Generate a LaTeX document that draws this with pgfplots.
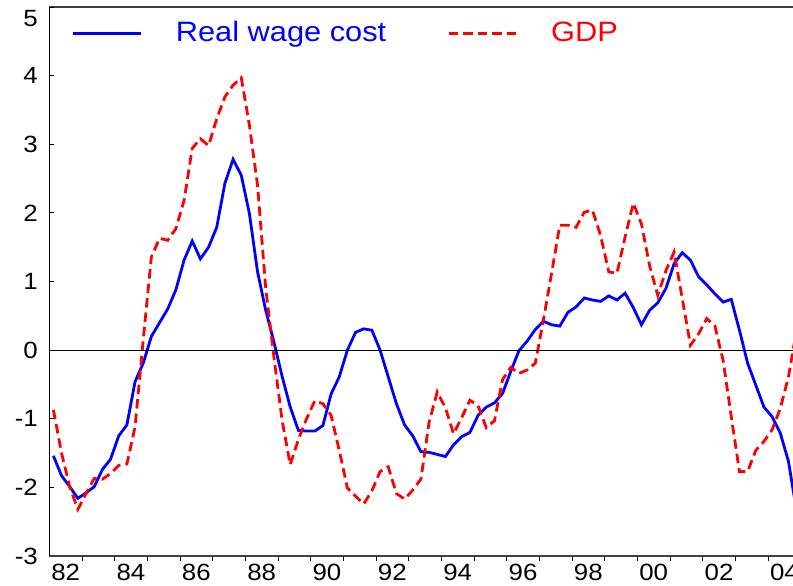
\documentclass[border=0pt]{standalone}
\usepackage{fontspec}
\setmainfont{Liberation Sans}[FakeStretch=1.1]
\usepackage{pgfplots}
\usepackage{pgfplotstable}
\pgfplotsset{compat=1.18}
\newcommand{\tickfont}{\fontsize{23.5}{28}\selectfont}
\newcommand{\legfont}{\fontsize{28}{33}\selectfont}

\pgfplotstableread{
k rwc
0 -1.54
1 -1.83
2 -1.99
3 -2.16
4 -2.08
5 -1.99
6 -1.74
7 -1.59
8 -1.25
9 -1.09
10 -0.46
11 -0.19
12 0.20
13 0.40
14 0.60
15 0.88
16 1.31
17 1.59
18 1.33
19 1.50
20 1.79
21 2.43
22 2.78
23 2.55
24 1.99
25 1.14
26 0.58
27 0.12
28 -0.38
29 -0.83
30 -1.17
31 -1.18
32 -1.18
33 -1.10
34 -0.64
35 -0.39
36 0.00
37 0.26
38 0.31
39 0.29
40 0.00
41 -0.39
42 -0.78
43 -1.09
44 -1.25
45 -1.48
46 -1.49
47 -1.52
48 -1.55
49 -1.38
50 -1.26
51 -1.20
52 -0.95
53 -0.83
54 -0.77
55 -0.63
56 -0.31
57 -0.01
58 0.13
59 0.30
60 0.42
61 0.37
62 0.35
63 0.55
64 0.63
65 0.76
66 0.73
67 0.71
68 0.79
69 0.73
70 0.83
71 0.62
72 0.37
73 0.58
74 0.69
75 0.90
76 1.26
77 1.42
78 1.31
79 1.07
80 0.95
81 0.82
82 0.70
83 0.74
84 0.29
85 -0.19
86 -0.51
87 -0.83
88 -0.97
89 -1.21
90 -1.62
91 -2.35
}\rwctable

\pgfplotstableread{
k gdp
0 -0.87
1 -1.50
2 -1.99
3 -2.32
4 -2.09
5 -1.87
6 -1.88
7 -1.80
8 -1.68
9 -1.66
10 -1.12
11 0.15
12 1.36
13 1.63
14 1.60
15 1.77
16 2.18
17 2.94
18 3.08
19 2.98
20 3.37
21 3.69
22 3.86
23 3.97
24 3.28
25 2.40
26 0.90
27 -0.10
28 -1.02
29 -1.67
30 -1.30
31 -1.00
32 -0.74
33 -0.78
34 -0.95
35 -1.46
36 -2.01
37 -2.13
38 -2.24
39 -2.05
40 -1.77
41 -1.70
42 -2.09
43 -2.17
44 -2.04
45 -1.88
46 -1.05
47 -0.61
48 -0.84
49 -1.22
50 -0.98
51 -0.73
52 -0.81
53 -1.13
54 -1.03
55 -0.43
56 -0.25
57 -0.34
58 -0.29
59 -0.19
60 0.44
61 1.12
62 1.82
63 1.82
64 1.79
65 2.01
66 2.04
67 1.67
68 1.14
69 1.12
70 1.65
71 2.14
72 1.84
73 1.23
74 0.80
75 1.16
76 1.43
77 0.75
78 0.07
79 0.24
80 0.46
81 0.35
82 -0.15
83 -0.97
84 -1.77
85 -1.77
86 -1.46
87 -1.33
88 -1.16
89 -0.85
90 -0.39
91 0.30
}\gdptable

\begin{document}
\begin{tikzpicture}
\begin{axis}[
  scale only axis,
  width=743.7pt, height=549pt,
  xmin=1982, xmax=2004.764,
  ymin=-3, ymax=5,
  separate axis lines,
  axis x line*=box,
  axis y line*=left,
  x axis line style={black!75, line width=1.3pt},
  y axis line style={black, line width=0.9pt},
  xtick={1982.5,1984.5,...,2004.5},
  xticklabels={82,84,86,88,90,92,94,96,98,00,02,04},
  xtick pos=bottom,
  major x tick style={draw=none},
  minor xtick={1983,1984,...,2004},
  minor x tick style={black, line width=0.9pt},
  minor tick length=5pt,
  tick align=outside,
  ytick={-3,-2,...,4},
  yticklabels={-3,-2,-1,0,1,2,3,4},
  extra y ticks={5},
  extra y tick labels={5},
  extra y tick style={yticklabel style={yshift=-12pt}},
  y tick style={black, line width=0.9pt},
  ytick align=inside,
  major tick length=5pt,
  ticklabel style={font=\tickfont, text=black},
  yticklabel style={xshift=-8pt},
  clip=true,
  legend columns=2,
  legend cell align=left,
  legend style={draw=none, fill=none, at={(rel axis cs:0.0305,0.951)}, anchor=west,
    inner sep=0pt, outer sep=0pt,
    nodes={inner sep=0pt, text height=21pt, text depth=6pt, font=\legfont},
    /tikz/every odd column/.append style={column sep=33pt},
    /tikz/every even column/.append style={column sep=61pt}},
  legend image code/.code={\draw[#1] (0pt,0pt) -- (68pt,0pt); \path (0pt,-9pt);},
]
\addplot[blue, line width=2.8pt] table[x expr={1982.125+0.25*\thisrow{k}}, y=rwc] {\rwctable};
\addlegendentry{\textcolor{blue}{Real wage cost}}
\addplot[red, line width=2.8pt, dash pattern=on 9.5pt off 5pt] table[x expr={1982.125+0.25*\thisrow{k}}, y=gdp] {\gdptable};
\addlegendentry{\textcolor{red}{GDP}}
\addplot[black, line width=0.9pt, forget plot] coordinates {(1982,0) (2005,0)};
\coordinate (SW) at (rel axis cs:0,0);
\coordinate (NE) at (rel axis cs:1,1);
\end{axis}
\pgfresetboundingbox
\useasboundingbox ([xshift=-49.3pt,yshift=-30pt]SW) rectangle ([yshift=7pt]NE);
\end{tikzpicture}
\end{document}
